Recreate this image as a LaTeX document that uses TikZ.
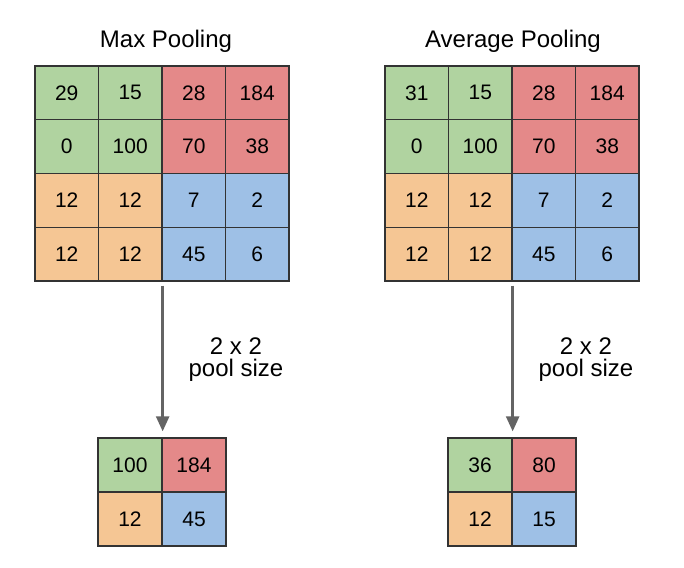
\documentclass[tikz,border=0pt]{standalone}
\usepackage{fontspec}
\setmainfont{Liberation Sans}
\usetikzlibrary{arrows.meta}
\definecolor{q0}{RGB}{176,211,160}
\definecolor{q1}{RGB}{228,137,137}
\definecolor{q2}{RGB}{245,198,148}
\definecolor{q3}{RGB}{158,192,230}
\definecolor{edgegray}{RGB}{51,51,51}
\definecolor{arrowgray}{RGB}{100,100,100}
\tikzset{cell/.style={draw=edgegray, line width=1.3pt, inner sep=0pt, font=\fontsize{21}{25}\selectfont}}
\tikzset{bigcell/.style={cell, minimum width=63.5pt, minimum height=53.75pt}}
\tikzset{smallcell/.style={cell, minimum width=64pt, minimum height=54pt}}
\tikzset{title/.style={font=\fontsize{24}{28}\selectfont, anchor=base}}
\tikzset{poolsize/.style={font=\fontsize{24}{22}\selectfont, align=center, anchor=base}}
\tikzset{poolarrow/.style={draw=arrowgray, line width=2.4pt, -{Triangle[width=13pt, length=15pt]}, shorten <=4pt, shorten >=6pt}}

\begin{document}
\begin{tikzpicture}[x=1pt, y=-1pt]
    \useasboundingbox (0, 0) rectangle (684, 567);
    % input grids
    \foreach \name/\x/\vals in {max/35/{29,15,28,184,0,100,70,38,12,12,7,2,12,12,45,6},
                                avg/385/{31,15,28,184,0,100,70,38,12,12,7,2,12,12,45,6}} {
        \foreach \v [count=\i from 0] in \vals {
            \pgfmathtruncatemacro\r{\i/4}
            \pgfmathtruncatemacro\c{mod(\i,4)}
            \pgfmathtruncatemacro\q{2*(\r>1)+(\c>1)}
            \node[bigcell, fill=q\q] (\name-\r-\c) at (\x + 63.5*\c + 31.75, 66 + 53.75*\r + 26.875) {\v};
        }
    }
    % pooled grids
    \foreach \name/\x/\vals in {maxout/98/{100,184,12,45}, avgout/448/{36,80,12,15}} {
        \foreach \v [count=\i from 0] in \vals {
            \pgfmathtruncatemacro\r{\i/2}
            \pgfmathtruncatemacro\c{mod(\i,2)}
            \pgfmathtruncatemacro\q{2*\r+\c}
            \node[smallcell, fill=q\q] (\name-\r-\c) at (\x + 64*\c + 32, 438 + 54*\r + 27) {\v};
        }
    }
    \node[title] (maxtitle) at (166, 48) {Max Pooling};
    \node[title] (avgtitle) at (513, 48) {Average Pooling};
    \draw[poolarrow] (max-3-1.south east) -- (maxout-0-0.north east);
    \draw[poolarrow] (avg-3-1.south east) -- (avgout-0-0.north east);
    \node[poolsize] (maxsize) at (236, 376) {2 x 2\\pool size};
    \node[poolsize] (avgsize) at (586, 376) {2 x 2\\pool size};
\end{tikzpicture}
\end{document}
